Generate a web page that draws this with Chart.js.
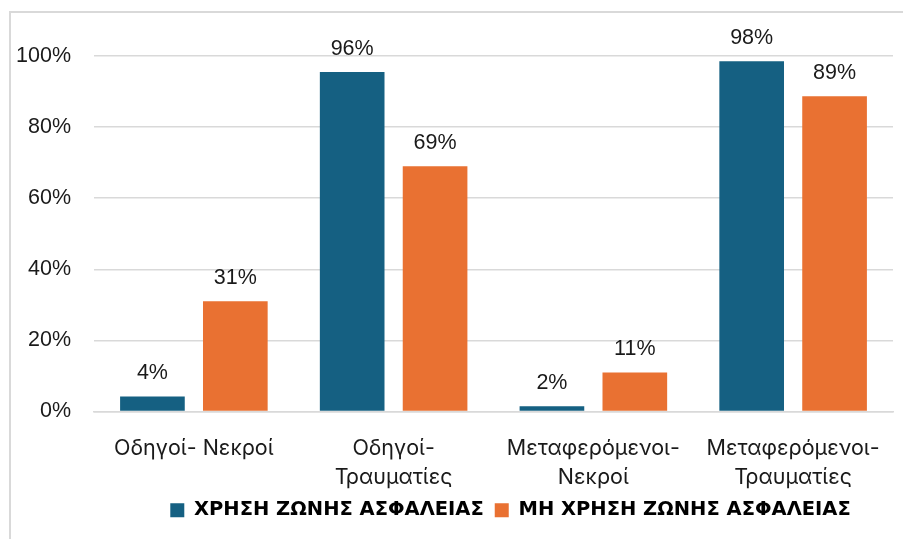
<!DOCTYPE html>
<html>
<head>
<meta charset="utf-8">
<script src="https://cdn.jsdelivr.net/npm/chart.js@4/dist/chart.umd.min.js"></script>
<style>
  body { margin: 0; background: #fff; overflow: hidden; }
  #frame { position: absolute; left: 9px; top: 11px; width: 1000px; height: 1000px; border: 2px solid #d9d9d9; }
  #wrap { position: absolute; left: 0; top: 0; width: 903px; height: 539px; }
</style>
</head>
<body>
<div id="frame"></div>
<div id="wrap"><canvas id="myChart" width="903" height="539"></canvas></div>
<script>
// categories (multi-line labels as arrays)
let categories = [
  ['Οδηγοί- Νεκροί'],
  ['Οδηγοί-', 'Τραυματίες'],
  ['Μεταφερόμενοι-', 'Νεκροί'],
  ['Μεταφερόμενοι-', 'Τραυματίες']
];
let seriesNames = ['ΧΡΗΣΗ ΖΩΝΗΣ ΑΣΦΑΛΕΙΑΣ', 'ΜΗ ΧΡΗΣΗ ΖΩΝΗΣ ΑΣΦΑΛΕΙΑΣ'];
// values (percent)
let useBelt = [4.2, 95.5, 1.5, 98.5];
let noBelt = [31, 69, 11, 88.7];
// data labels as printed on the chart
let useBeltLabels = ['4%', '96%', '2%', '98%'];
let noBeltLabels = ['31%', '69%', '11%', '89%'];
let yTicks = [0, 20, 40, 60, 80, 100];

let numFont = '"Liberation Sans", Arial, sans-serif';
let catFont = 'Inter, "Noto Sans", sans-serif';
let legendFont = '"DejaVu Sans", sans-serif';
let textColor = '#1a1a1a';

// draws the value labels over each bar
const barLabels = {
  id: 'barLabels',
  afterDatasetsDraw(chart) {
    let ctx = chart.ctx;
    let labelSets = [useBeltLabels, noBeltLabels];
    ctx.save();
    ctx.font = '21.5px ' + numFont;
    ctx.fillStyle = textColor;
    ctx.textAlign = 'center';
    ctx.textBaseline = 'middle';
    chart.data.datasets.forEach((ds, i) => {
      let meta = chart.getDatasetMeta(i);
      meta.data.forEach((bar, j) => {
        ctx.fillText(labelSets[i][j], bar.x, bar.y - 23);
      });
    });
    ctx.restore();
  }
};

// the original chart is wider than the crop, so its legend sits right of centre
const legendShift = {
  id: 'legendShift',
  afterLayout(chart) {
    chart.legend.left += 64;
    chart.legend.right += 64;
  }
};

let ctx = document.getElementById('myChart').getContext('2d');
let myChart = new Chart(ctx, {
  type: 'bar',
  data: {
    labels: categories,
    datasets: [{
      label: seriesNames[0],
      data: useBelt,
      backgroundColor: '#156082'
    }, {
      label: seriesNames[1],
      data: noBelt,
      backgroundColor: '#e97132'
    }]
  },
  options: {
    responsive: false,
    animation: false,
    categoryPercentage: 0.83,
    barPercentage: 0.78,
    layout: { padding: { top: 56, right: 10, left: 0, bottom: 9 } },
    scales: {
      x: {
        grid: { display: false },
        border: { color: '#d9d9d9', width: 1.5 },
        ticks: {
          color: textColor,
          font: { family: catFont, size: 21.5, lineHeight: '29px' },
          padding: 14.5,
          maxRotation: 0,
          autoSkip: false
        },
        afterFit(scale) { scale.height = 78; }
      },
      y: {
        min: 0,
        max: 100,
        afterBuildTicks(scale) { scale.ticks = yTicks.map(v => ({ value: v })); },
        grid: { color: '#d9d9d9', lineWidth: 1.5, drawTicks: false },
        border: { display: false },
        ticks: {
          color: textColor,
          font: { family: numFont, size: 21.5 },
          padding: 23,
          callback: v => v + '%'
        },
        afterFit(scale) { scale.width = 94; }
      }
    },
    plugins: {
      tooltip: { enabled: false },
      legend: {
        position: 'bottom',
        labels: {
          color: '#000',
          font: { family: legendFont, size: 19.5, weight: 'bold' },
          boxWidth: 14,
          boxHeight: 14,
          padding: 11
        }
      }
    }
  },
  plugins: [barLabels, legendShift]
});
</script>
</body>
</html>
